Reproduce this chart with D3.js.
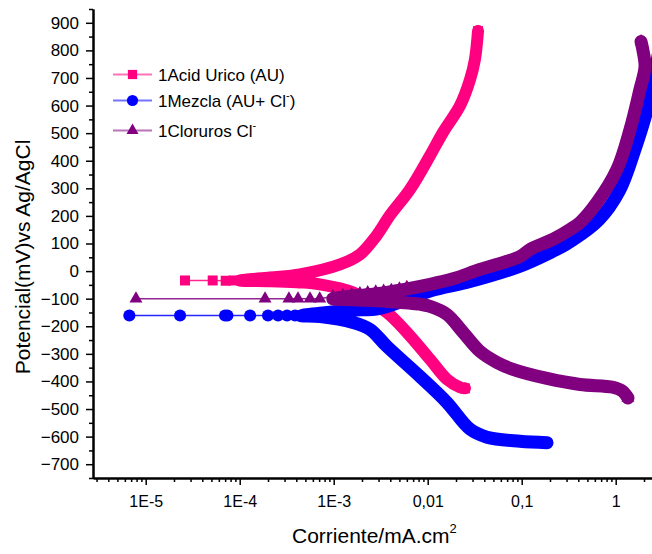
<!DOCTYPE html>
<html><head><meta charset="utf-8">
<script src="https://cdn.jsdelivr.net/npm/d3@7"></script>
<style>
body{margin:0;background:#fff}
svg{display:block}
text{font-family:"Liberation Sans",Arial,Helvetica,sans-serif;fill:#000}
</style>
</head><body>
<svg id="chart" width="652" height="554"></svg>
<script>
// ---------- tick data ----------
const xTickValues = [1e-5, 1e-4, 1e-3, 1e-2, 1e-1, 1];
const xTickLabels = ["1E-5", "1E-4", "1E-3", "0,01", "0,1", "1"];
const yTickValues = [-700,-600,-500,-400,-300,-200,-100,0,100,200,300,400,500,600,700,800,900];
const yMinorValues = [-750,-650,-550,-450,-350,-250,-150,-50,50,150,250,350,450,550,650,750,850,950];
const xDomain = [2.75e-6, 2.96];
const yDomain = [-750, 950];

// ---------- series: 1Acid Urico (AU) ----------
const auSparseI = [2.62e-5, 5.16e-5, 7.1e-5, 8.6e-5];
const auSparseE = [-34, -34, -35, -34];
const auCathI = [1.0e-4, 2.1e-4, 4.37e-4, 7.1e-4, 1.6e-3, 3.68e-3, 6.0e-3, 0.0106, 0.016, 0.022, 0.0249];
const auCathE = [-34, -37, -41, -48, -77, -150, -222, -320, -392, -421, -425];
const auAnodI = [1.0e-4, 2.1e-4, 4.37e-4, 1.17e-3, 1.9e-3, 2.82e-3, 3.97e-3, 6.48e-3, 0.0106, 0.01455, 0.0221, 0.0282, 0.0318, 0.0343];
const auAnodE = [-30, -23, -12, 24, 60, 126, 202, 296, 419, 503, 600, 694, 767, 870];

// ---------- series: 1Mezcla (AU+ Cl-) ----------
const mzSparseI = [6.7e-6, 2.32e-5, 6.98e-5, 7.4e-5, 1.29e-4, 2.0e-4, 2.56e-4, 3.19e-4, 3.88e-4];
const mzSparseE = [-161, -161, -161, -161, -161, -161, -161, -161, -161];
const mzCathI = [4.5e-4, 7.16e-4, 1.6e-3, 2.43e-3, 3.68e-3, 8.27e-3, 0.016, 0.0282, 0.0427, 0.0955, 0.186];
const mzCathE = [-162, -165, -186, -211, -273, -382, -476, -573, -602, -617, -622];
const mzAnodI = [4.5e-4, 1.5e-3, 3.1e-3, 0.0106, 0.0282, 0.096, 0.215, 0.3, 0.66, 1.1, 1.6, 2.2, 2.55, 2.96];
const mzAnodE = [-158, -142, -135, -72, -38, 18, 72, 98, 185, 292, 440, 595, 700, 820];

// ---------- series: 1Cloruros Cl- ----------
const clSparseI = [7.88e-6, 1.86e-4, 3.34e-4, 4.17e-4, 5.6e-4, 7.1e-4, 9.8e-4, 1.25e-3, 1.55e-3, 1.9e-3, 2.3e-3, 2.8e-3, 3.4e-3, 4.1e-3, 5.0e-3, 6.0e-3];
const clSparseE = [-100, -100, -100, -100, -100, -100, -92, -88, -85, -81, -78, -75, -72, -69, -64, -59];
const clCathI = [9.8e-4, 1.6e-3, 3.68e-3, 8.27e-3, 0.0106, 0.016, 0.0238, 0.036, 0.0546, 0.0807, 0.186, 0.417, 0.936, 1.18, 1.35];
const clCathE = [-100, -104, -110, -120, -128, -157, -222, -291, -331, -356, -389, -411, -421, -435, -460];
const clAnodI = [9.8e-4, 3.68e-3, 0.0106, 0.0186, 0.036, 0.096, 0.123, 0.215, 0.327, 0.417, 0.63, 1.03, 1.42, 1.81, 2.05, 1.95, 1.86];
const clAnodE = [-96, -77, -48, -28, 6, 53, 79, 115, 151, 176, 248, 368, 513, 658, 740, 800, 832];

const seriesNames = ["1Acid Urico (AU)", "1Mezcla (AU+ Cl", "1Cloruros Cl"];
const seriesColors = ["#ff0080", "#0000ff", "#800080"];

// ---------- build ----------
function pts(I, E){ return I.map((v,i)=>({i:v, e:E[i]})); }
const series = [
  {name:seriesNames[0], color:seriesColors[0], sym:d3.symbolSquare, size:100, width:12,
   sparse:pts(auSparseI,auSparseE), cath:pts(auCathI,auCathE), anod:pts(auAnodI,auAnodE)},
  {name:seriesNames[1], color:seriesColors[1], sym:d3.symbolCircle, size:115, width:13,
   sparse:pts(mzSparseI,mzSparseE), cath:pts(mzCathI,mzCathE), anod:pts(mzAnodI,mzAnodE)},
  {name:seriesNames[2], color:seriesColors[2], sym:d3.symbolTriangle, size:73, width:13,
   sparse:pts(clSparseI,clSparseE), cath:pts(clCathI,clCathE), anod:pts(clAnodI,clAnodE)}
];

const svg = d3.select("#chart");
const L = 93, R = 660, T = 9, B = 478;
const x = d3.scaleLog().domain(xDomain).range([L, R]);
const y = d3.scaleLinear().domain(yDomain).range([B, T]);

svg.append("defs").append("clipPath").attr("id","clip")
  .append("rect").attr("x",L).attr("y",T).attr("width",R-L).attr("height",B-T);

const plot = svg.append("g").attr("clip-path","url(#clip)");
const line = d3.line().x(d=>x(d.i)).y(d=>y(d.e)).curve(d3.curveCatmullRom.alpha(0.5));
const thin = d3.line().x(d=>x(d.i)).y(d=>y(d.e));

series.forEach(s=>{
  const g = plot.append("g");
  // thin connecting line through the sparse low-current points
  const thinPts = s.sparse.filter(d=>d.i<=s.cath[0].i).concat([s.cath[0]]).sort((a,b)=>a.i-b.i);
  g.append("path").attr("d", thin(thinPts)).attr("fill","none")
    .attr("stroke", s.color).attr("stroke-width",1.6).attr("stroke-opacity",0.85);
  // dense band of overlapping symbols
  const band = s.cath.slice().reverse().concat(s.anod.slice(1));
  g.append("path").attr("d", line(band)).attr("fill","none")
    .attr("stroke", s.color).attr("stroke-width", s.width)
    .attr("stroke-linejoin","round").attr("stroke-linecap","round");
  // markers: separated points and the branch ends
  const sym = d3.symbol().type(s.sym).size(s.size);
  const marks = s.sparse.concat([s.cath[s.cath.length-1], s.anod[s.anod.length-1]]);
  g.selectAll("path.m").data(marks).enter().append("path")
    .attr("class","m").attr("d", sym)
    .attr("transform", d=>`translate(${x(d.i)},${y(d.e)})`)
    .attr("fill", s.color);
});

// ---------- axes ----------
const xMinor = [];
for (let dd=-6; dd<=0; dd++) for (let k=2;k<=9;k++){ const v=k*Math.pow(10,dd); if (v>xDomain[0] && v<xDomain[1]) xMinor.push(v); }

const xAxis = svg.append("g").attr("transform",`translate(0,${B})`)
  .call(d3.axisBottom(x).tickValues(xTickValues).tickFormat((d,i)=>xTickLabels[i]).tickSize(7).tickSizeOuter(0).tickPadding(11));
svg.append("g").attr("transform",`translate(0,${B})`)
  .call(d3.axisBottom(x).tickValues(xMinor).tickFormat("").tickSize(4).tickSizeOuter(0));
const yAxis = svg.append("g").attr("transform",`translate(${L},0)`)
  .call(d3.axisLeft(y).tickValues(yTickValues).tickSize(7).tickSizeOuter(0).tickPadding(7));
svg.append("g").attr("transform",`translate(${L},0)`)
  .call(d3.axisLeft(y).tickValues(yMinorValues).tickFormat("").tickSize(4).tickSizeOuter(0));

svg.selectAll(".domain").attr("stroke","#000").attr("stroke-width",2);
svg.selectAll(".tick line").attr("stroke","#000").attr("stroke-width",1.5);
xAxis.selectAll("text").attr("font-size",16).attr("font-family","Liberation Sans, Arial, sans-serif");
yAxis.selectAll("text").attr("font-size",17).attr("font-family","Liberation Sans, Arial, sans-serif");

// axis titles
svg.append("text").attr("transform","translate(30,257) rotate(-90)")
  .attr("text-anchor","middle").attr("font-size",21).text("Potencial(mV)vs Ag/AgCl");
const xt = svg.append("text").attr("x",292).attr("y",543).attr("font-size",21);
xt.append("tspan").text("Corriente/mA.cm");
xt.append("tspan").attr("font-size",13).attr("dy",-10).text("2");

// ---------- legend ----------
const legY = [74.5, 100.5, 130.5];
const legTextY = [80.5, 106.5, 136.5];
series.forEach((s,k)=>{
  const g = svg.append("g");
  g.append("line").attr("x1",113).attr("x2",152).attr("y1",legY[k]).attr("y2",legY[k])
    .attr("stroke",s.color).attr("stroke-width",2).attr("stroke-opacity",0.55);
  const sym = d3.symbol().type(s.sym).size(s.size*0.85);
  g.append("path").attr("d",sym()).attr("transform",`translate(132.5,${legY[k]})`).attr("fill",s.color);
  const t = g.append("text").attr("x",158).attr("y",legTextY[k]).attr("font-size",17);
  t.append("tspan").text(s.name);
  if (k===1){ t.append("tspan").attr("font-size",11).attr("dy",-8).text("-"); t.append("tspan").attr("dy",8).text(")"); }
  if (k===2){ t.append("tspan").attr("font-size",11).attr("dy",-8).text("-"); }
});
</script>
</body></html>
